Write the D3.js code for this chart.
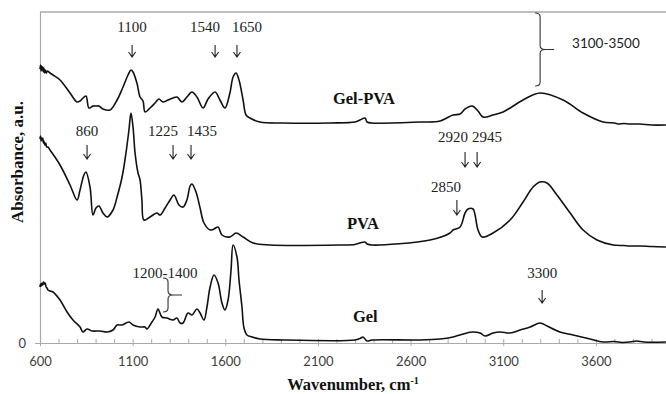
<!DOCTYPE html>
<html>
<head>
<meta charset="utf-8">
<script src="https://cdn.jsdelivr.net/npm/d3@7/dist/d3.min.js"></script>
<style>
  html, body { margin: 0; padding: 0; background: #fff; }
  svg { display: block; }
</style>
</head>
<body>
<svg id="chart" width="666" height="394"></svg>
<script>
// FTIR spectra: [wavenumber (cm-1), absorbance (a.u., stacked offsets)]
const gelPva = [
  [600,2.74],[603,2.78],[606,2.72],[609,2.77],[612,2.73],[615,2.76],[618,2.71],[621,2.75],[625,2.70],[629,2.73],[634,2.70],[640,2.72],
  [654,2.70],[670,2.68],[708,2.63],[762,2.50],[800,2.41],[816,2.42],[827,2.44],[848,2.47],[864,2.35],[886,2.37],
  [902,2.37],[918,2.37],[940,2.34],[978,2.33],[1016,2.43],[1048,2.56],[1075,2.68],[1091,2.73],[1102,2.71],[1123,2.60],
  [1140,2.46],[1156,2.42],[1167,2.31],[1194,2.35],[1221,2.40],[1242,2.44],[1264,2.41],[1291,2.43],[1318,2.45],[1339,2.46],
  [1366,2.41],[1393,2.46],[1420,2.51],[1447,2.46],[1480,2.35],[1507,2.44],[1545,2.51],[1571,2.43],[1598,2.35],[1625,2.50],
  [1642,2.66],[1658,2.70],[1674,2.63],[1696,2.43],[1712,2.28],[1733,2.25],[1787,2.21],[1911,2.20],[2165,2.20],[2300,2.21],
  [2327,2.23],[2354,2.25],[2365,2.21],[2392,2.20],[2651,2.21],[2759,2.22],[2829,2.28],[2867,2.29],[2894,2.34],[2932,2.37],
  [2964,2.32],[2991,2.26],[3045,2.28],[3099,2.31],[3207,2.43],[3299,2.50],[3423,2.43],[3531,2.30],[3639,2.21],[3700,2.20],
  [3720,2.19],[3750,2.195],[3784,2.19],[3838,2.19],[3900,2.18],[3978,2.18]
];
const pva = [
  [600,2.04],[603,2.07],[606,2.02],[609,2.05],[612,2.03],[615,2.05],[618,2.00],[621,2.02],[626,1.98],[631,2.00],[636,1.96],[643,1.96],
  [654,1.93],[708,1.78],[762,1.58],[800,1.43],[816,1.53],[837,1.68],[848,1.71],[870,1.56],[886,1.28],[902,1.35],
  [918,1.37],[940,1.30],[962,1.26],[994,1.33],[1016,1.46],[1043,1.66],[1064,1.90],[1080,2.13],[1091,2.30],[1102,2.16],
  [1113,1.90],[1129,1.70],[1140,1.63],[1150,1.43],[1161,1.23],[1194,1.26],[1231,1.30],[1248,1.28],[1275,1.35],[1302,1.43],
  [1323,1.48],[1350,1.38],[1372,1.36],[1393,1.43],[1410,1.57],[1420,1.59],[1442,1.51],[1464,1.35],[1485,1.20],[1518,1.13],
  [1539,1.14],[1561,1.16],[1582,1.08],[1625,1.06],[1658,1.10],[1696,1.06],[1750,1.00],[1841,0.98],[2219,0.98],[2300,0.985],
  [2327,1.00],[2354,1.01],[2365,0.99],[2392,0.98],[2705,1.03],[2813,1.10],[2829,1.13],[2867,1.16],[2894,1.30],[2910,1.34],
  [2937,1.34],[2948,1.28],[2964,1.13],[2986,1.06],[3045,1.10],[3137,1.23],[3207,1.41],[3261,1.56],[3299,1.61],[3336,1.60],
  [3390,1.48],[3461,1.30],[3531,1.13],[3606,1.03],[3693,0.98],[3750,0.975],[3784,0.97],[3838,0.97],[3900,0.965],[3978,0.96]
];
const gel = [
  [600,0.56],[603,0.59],[607,0.57],[611,0.60],[615,0.58],[619,0.61],[624,0.59],[628,0.60],[633,0.56],[638,0.55],
  [643,0.53],[654,0.52],[670,0.51],[708,0.43],[746,0.31],[778,0.23],[816,0.16],[832,0.11],[854,0.14],[881,0.12],
  [924,0.12],[962,0.11],[994,0.13],[1016,0.18],[1043,0.18],[1080,0.21],[1102,0.18],[1140,0.16],[1167,0.16],[1177,0.14],
  [1204,0.21],[1221,0.26],[1237,0.34],[1258,0.26],[1285,0.25],[1318,0.23],[1339,0.25],[1356,0.20],[1372,0.20],[1399,0.30],
  [1420,0.28],[1447,0.34],[1464,0.30],[1485,0.23],[1501,0.36],[1518,0.56],[1539,0.68],[1561,0.60],[1582,0.40],[1598,0.33],
  [1615,0.43],[1631,0.73],[1642,0.98],[1663,0.86],[1674,0.63],[1690,0.36],[1701,0.15],[1717,0.08],[1744,0.06],[1787,0.04],
  [1911,0.03],[2300,0.03],[2327,0.045],[2343,0.06],[2365,0.02],[2392,0.03],[2651,0.03],[2759,0.04],[2829,0.06],[2867,0.08],
  [2932,0.11],[2975,0.10],[3002,0.07],[3045,0.10],[3083,0.11],[3137,0.10],[3191,0.13],[3245,0.16],[3299,0.20],[3336,0.17],
  [3406,0.11],[3477,0.08],[3569,0.04],[3639,0.01],[3700,0.015],[3740,0.005],[3784,0.01],[3820,0.02],[3860,0.01],[3978,0.01]
];

// Series names and where their labels sit [wavenumber, absorbance]
const seriesNames = ["Gel-PVA", "PVA", "Gel"];
const seriesLabelPos = [[2181, 2.39], [2257, 1.14], [2289, 0.21]];

// Peak annotations: label text, label centre wavenumber, label baseline
const peakLabels = [
  ["1100", 1097, 3.115], ["1540", 1490, 3.115], ["1650", 1717, 3.115],
  ["860", 854, 2.075], ["1225", 1264, 2.075], ["1435", 1474, 2.075],
  ["2920", 2829, 2.015], ["2945", 3013, 2.015],
  ["2850", 2791, 1.515],
  ["3300", 3310, 0.655],
  ["1200-1400", 1275, 0.655]
];
// Arrows: wavenumber, top, tip
const peakArrows = [
  [1097, 2.98, 2.86], [1545, 2.98, 2.86], [1663, 2.98, 2.86],
  [854, 1.98, 1.84], [1318, 1.98, 1.84], [1415, 1.98, 1.84],
  [2894, 1.91, 1.76], [2959, 1.91, 1.76],
  [2850, 1.43, 1.28],
  [3310, 0.53, 0.40]
];
// Braces: wavenumber of spine, top, bottom, label
const braces = [
  [3299, 3.30, 2.57, "3100-3500"],
  [1291, 0.65, 0.31, ""]
];

const xMajor = [600, 1100, 1600, 2100, 2600, 3100, 3600];
const xMinor = d3.range(600, 4001, 100);

const svg = d3.select("#chart");
const x = d3.scaleLinear().domain([600, 4000]).range([40, 670]);
const y = d3.scaleLinear().domain([0, 3.31]).range([343, 12]);

const axisColor = "#a9a9a9";
const tickText = "#404040";

// frame: top border
svg.append("line").attr("x1", x(600)).attr("x2", 666).attr("y1", y(3.31)).attr("y2", y(3.31))
  .attr("stroke", axisColor).attr("stroke-width", 1.5);

// x axis: minor ticks inward, labels on the majors
const gMinor = svg.append("g").attr("transform", `translate(0,${y(0)})`)
  .call(d3.axisBottom(x).tickValues(xMinor).tickSizeInner(-4).tickSizeOuter(0).tickFormat(""));
const gMajor = svg.append("g").attr("transform", `translate(0,${y(0)})`)
  .call(d3.axisBottom(x).tickValues(xMajor).tickSizeInner(3).tickSizeOuter(0).tickPadding(11).tickFormat(d3.format("d")));
[gMinor, gMajor].forEach(g => {
  g.select(".domain").attr("stroke", axisColor).attr("stroke-width", 1.2);
  g.selectAll(".tick line").attr("stroke", axisColor).attr("stroke-width", 1);
});
gMajor.selectAll(".tick text").attr("fill", tickText)
  .attr("font-family", "Lato, 'Open Sans', sans-serif").attr("font-size", 13);

// y axis: only zero is labelled
const gy = svg.append("g").attr("transform", `translate(${x(600)},0)`)
  .call(d3.axisLeft(y).tickValues([0]).tickSizeInner(5).tickSizeOuter(0).tickPadding(9).tickFormat(d3.format("d")));
gy.select(".domain").attr("stroke", axisColor).attr("stroke-width", 1.2);
gy.selectAll(".tick line").attr("stroke", axisColor);
gy.selectAll(".tick text").attr("fill", tickText)
  .attr("font-family", "Lato, 'Open Sans', sans-serif").attr("font-size", 13);

// spectra
const line = d3.line().x(d => x(d[0])).y(d => y(d[1])).curve(d3.curveCatmullRom.alpha(0.5));
[gelPva, pva, gel].forEach(s => {
  svg.append("path").datum(s).attr("d", line)
    .attr("fill", "none").attr("stroke", "#111").attr("stroke-width", 1.6)
    .attr("stroke-linejoin", "round");
});

// series names
svg.selectAll("text.series").data(seriesNames).join("text").attr("class", "series")
  .attr("x", (d, i) => x(seriesLabelPos[i][0])).attr("y", (d, i) => y(seriesLabelPos[i][1]))
  .attr("font-family", "'Liberation Serif', 'Times New Roman', serif").attr("font-weight", "bold")
  .attr("font-size", 16.5).attr("fill", "#111").text(d => d);

// peak labels
svg.selectAll("text.peak").data(peakLabels).join("text").attr("class", "peak")
  .attr("x", d => x(d[1])).attr("y", d => y(d[2])).attr("text-anchor", "middle")
  .attr("font-family", "'Liberation Serif', 'Times New Roman', serif")
  .attr("font-size", 15).attr("fill", "#222").text(d => d[0]);

// arrows
svg.selectAll("path.arrow").data(peakArrows).join("path").attr("class", "arrow")
  .attr("d", d => {
    const px = x(d[0]), t = y(d[1]), b = y(d[2]);
    return `M${px},${t}V${b}M${px - 3.5},${b - 5}L${px},${b}L${px + 3.5},${b - 5}`;
  })
  .attr("fill", "none").attr("stroke", "#222").attr("stroke-width", 1.1);

// braces
braces.forEach(([wn, top, bot, label]) => {
  const px = x(wn), t = y(top), b = y(bot), m = (t + b) / 2;
  const path = `M${px - 5},${t}Q${px},${t} ${px},${t + 4}V${m - 4}Q${px},${m} ${px + 5},${m}H${px + 14}` +
    `M${px + 5},${m}Q${px},${m} ${px},${m + 4}V${b - 4}Q${px},${b} ${px - 5},${b}`;
  svg.append("path").attr("d", path).attr("fill", "none").attr("stroke", "#333").attr("stroke-width", 1.1);
  if (label) {
    svg.append("text").attr("x", px + 32).attr("y", m - 2)
      .attr("font-family", "Lato, 'Open Sans', sans-serif").attr("font-size", 13.5)
      .attr("fill", "#222").text(label);
  }
});

// axis titles
const xt = svg.append("text").attr("x", 353).attr("y", 390).attr("text-anchor", "middle")
  .attr("font-family", "'Liberation Serif', 'Times New Roman', serif").attr("font-weight", "bold")
  .attr("font-size", 16.5).attr("fill", "#111");
xt.append("tspan").text("Wavenumber, cm");
xt.append("tspan").attr("dy", -6).attr("font-size", 10).text("-1");

svg.append("text").attr("transform", "translate(23,162) rotate(-90)").attr("text-anchor", "middle")
  .attr("font-family", "'Liberation Serif', 'Times New Roman', serif").attr("font-weight", "bold")
  .attr("font-size", 17).attr("fill", "#111").text("Absorbance, a.u.");
</script>
</body>
</html>
